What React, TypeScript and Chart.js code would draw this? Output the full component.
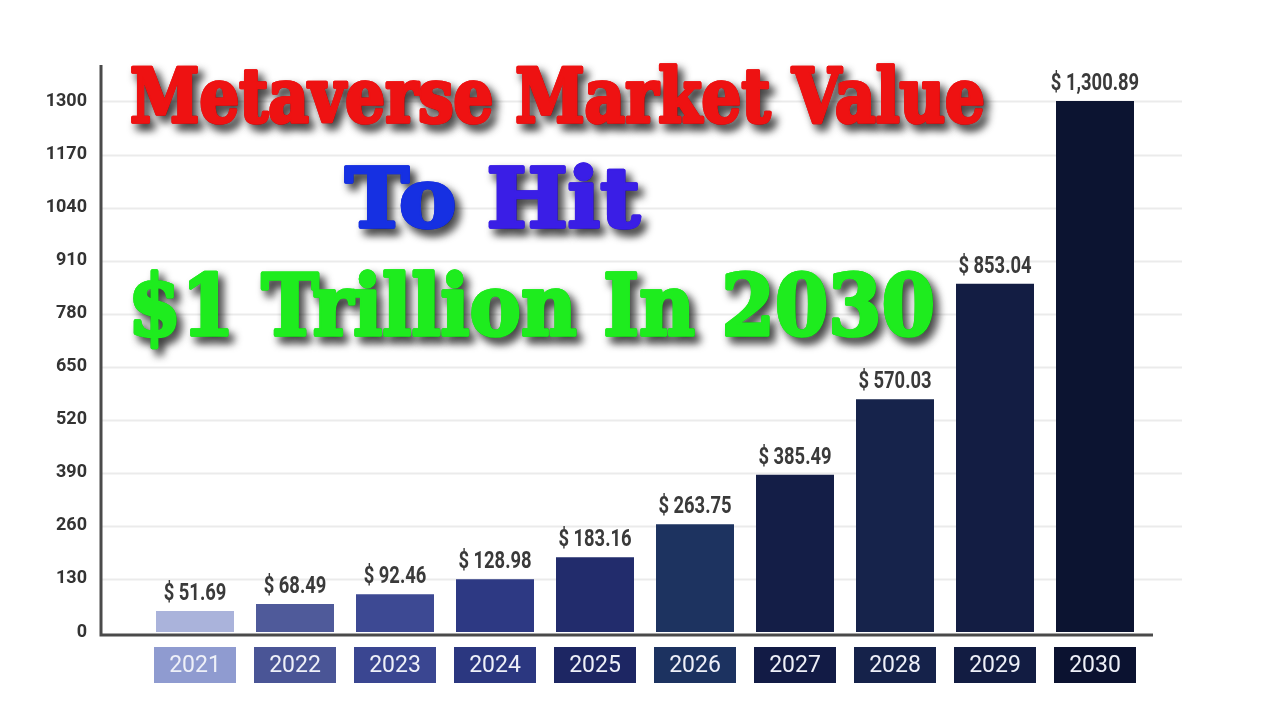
import React, { useEffect, useRef } from "react";
import { Chart, registerables } from "chart.js";

Chart.register(...registerables);

const years = ["2021", "2022", "2023", "2024", "2025", "2026", "2027", "2028", "2029", "2030"];
const marketValues = [51.69, 68.49, 92.46, 128.98, 183.16, 263.75, 385.49, 570.03, 853.04, 1300.89];
const barColors = [
  "#aab3db", "#4f5a9a", "#3d4993", "#2d3983", "#222c6c",
  "#1d3360", "#141e47", "#16234b", "#131d43", "#0c1431",
];
const labelBoxColors = [
  "#8f9bd0", "#4a5596", "#3a4691", "#2b3780", "#1d2663",
  "#1c3260", "#121b45", "#15224a", "#121c42", "#0b1230",
];
const yTickStep = 130;
const yMax = 1380;
const titleLines = [
  { parts: [{ text: "Metaverse Market Value", color: "#ee1212" }], left: 130, right: 985, baseline: 122, cap: 54 },
  { parts: [{ text: "To ", color: "#1630e2" }, { text: "Hit", color: "#3a1ee6" }], left: 345, right: 640, baseline: 227, cap: 60 },
  { parts: [{ text: "$1 Trillion In 2030", color: "#1eec1e" }], left: 128, right: 935, baseline: 335, cap: 62 },
];

const NARROW = '"Roboto", "Liberation Sans", sans-serif';

const decorPlugin = {
  id: "decor",
  beforeDraw(chart: any) {
    const { ctx, chartArea } = chart;
    const y = chart.scales.y;
    const x = chart.scales.x;
    ctx.save();
    ctx.fillStyle = "#ffffff";
    ctx.fillRect(0, 0, chart.width, chart.height);
    // grid lines
    ctx.strokeStyle = "#ebebeb";
    ctx.lineWidth = 2;
    y.ticks.forEach((t: any) => {
      if (t.value === 0) return;
      const py = Math.round(y.getPixelForValue(t.value)) + 0.5;
      ctx.beginPath();
      ctx.moveTo(101, py);
      ctx.lineTo(1182, py);
      ctx.stroke();
    });
    // label boxes
    const meta = chart.getDatasetMeta(0);
    meta.data.forEach((bar: any, i: number) => {
      const w = bar.width + 4;
      ctx.fillStyle = labelBoxColors[i];
      ctx.fillRect(x.getPixelForValue(i) - w / 2, chartArea.bottom + 15, w, 36);
    });
    ctx.restore();
  },
  afterDatasetsDraw(chart: any) {
    const { ctx, chartArea } = chart;
    const meta = chart.getDatasetMeta(0);
    ctx.save();
    ctx.fillStyle = "#3a3a3a";
    ctx.font = `bold 23px ${NARROW}`;
    ctx.textAlign = "center";
    ctx.textBaseline = "alphabetic";
    meta.data.forEach((bar: any, i: number) => {
      const v = marketValues[i].toLocaleString("en-US", { minimumFractionDigits: 2, maximumFractionDigits: 2 });
      ctx.save();
      ctx.translate(bar.x, bar.y - 11);
      ctx.scale(0.8, 1);
      ctx.fillText("$ " + v, 0, 0);
      ctx.restore();
    });
    // axes
    ctx.strokeStyle = "#4a4a4a";
    ctx.lineWidth = 3;
    ctx.beginPath();
    ctx.moveTo(101, 65);
    ctx.lineTo(101, chartArea.bottom + 3);
    ctx.lineTo(1153, chartArea.bottom + 3);
    ctx.stroke();
    ctx.restore();
  },
  afterDraw(chart: any) {
    const { ctx } = chart;
    titleLines.forEach((line) => {
      ctx.save();
      const size = line.cap / 0.729;
      ctx.font = `900 ${size}px "DejaVu Serif", serif`;
      ctx.textBaseline = "alphabetic";
      ctx.textAlign = "left";
      const full = line.parts.map((p) => p.text).join("");
      const w = ctx.measureText(full).width;
      const sx = (line.right - line.left) / w;
      ctx.translate(line.left, line.baseline);
      ctx.scale(sx, 1);
      let cx = 0;
      line.parts.forEach((p) => {
        ctx.save();
        ctx.shadowColor = "rgba(0,0,0,0.75)";
        ctx.shadowBlur = 8;
        ctx.shadowOffsetX = 5;
        ctx.shadowOffsetY = 6;
        ctx.fillStyle = p.color;
        ctx.strokeStyle = p.color;
        ctx.lineWidth = 3.5;
        ctx.lineJoin = "round";
        ctx.strokeText(p.text, cx, 0);
        ctx.fillText(p.text, cx, 0);
        ctx.restore();
        ctx.fillStyle = p.color;
        ctx.strokeStyle = p.color;
        ctx.lineWidth = 3.5;
        ctx.lineJoin = "round";
        ctx.strokeText(p.text, cx, 0);
        ctx.fillText(p.text, cx, 0);
        cx += ctx.measureText(p.text).width;
      });
      ctx.restore();
    });
  },
};

export default function App() {
  const ref = useRef<HTMLCanvasElement | null>(null);
  useEffect(() => {
    document.body.style.margin = "0";
    const chart = new Chart(ref.current!, {
      type: "bar",
      data: {
        labels: years,
        datasets: [
          {
            data: marketValues,
            backgroundColor: barColors,
            barPercentage: 0.78,
            categoryPercentage: 1,
          },
        ],
      },
      options: {
        animation: false,
        responsive: true,
        maintainAspectRatio: false,
        devicePixelRatio: 1,
        layout: { padding: { left: 0, right: 135, top: 65, bottom: 0 } },
        plugins: { legend: { display: false }, tooltip: { enabled: false } },
        scales: {
          x: {
            grid: { display: false, drawTicks: false },
            border: { display: false },
            ticks: {
              color: "#eef0f8",
              font: { family: NARROW, size: 23 },
              padding: 20,
            },
            afterFit: (s: any) => {
              s.height = 88;
            },
          },
          y: {
            min: 0,
            max: yMax,
            grid: { display: false, drawTicks: false },
            border: { display: false },
            ticks: {
              stepSize: yTickStep,
              color: "#333333",
              font: { family: NARROW, size: 18, weight: "bold" },
              padding: 58,
              callback: (v: any) => String(v),
            },
            afterBuildTicks: (s: any) => {
              s.ticks = s.ticks.filter((t: any) => t.value % yTickStep === 0);
            },
            afterFit: (s: any) => {
              s.width = 145;
            },
          },
        },
      },
      plugins: [decorPlugin],
    });
    return () => chart.destroy();
  }, []);
  return (
    <div style={{ position: "fixed", left: 0, top: 0, width: 1280, height: 720, background: "#fff" }}>
      <canvas ref={ref} />
    </div>
  );
}
